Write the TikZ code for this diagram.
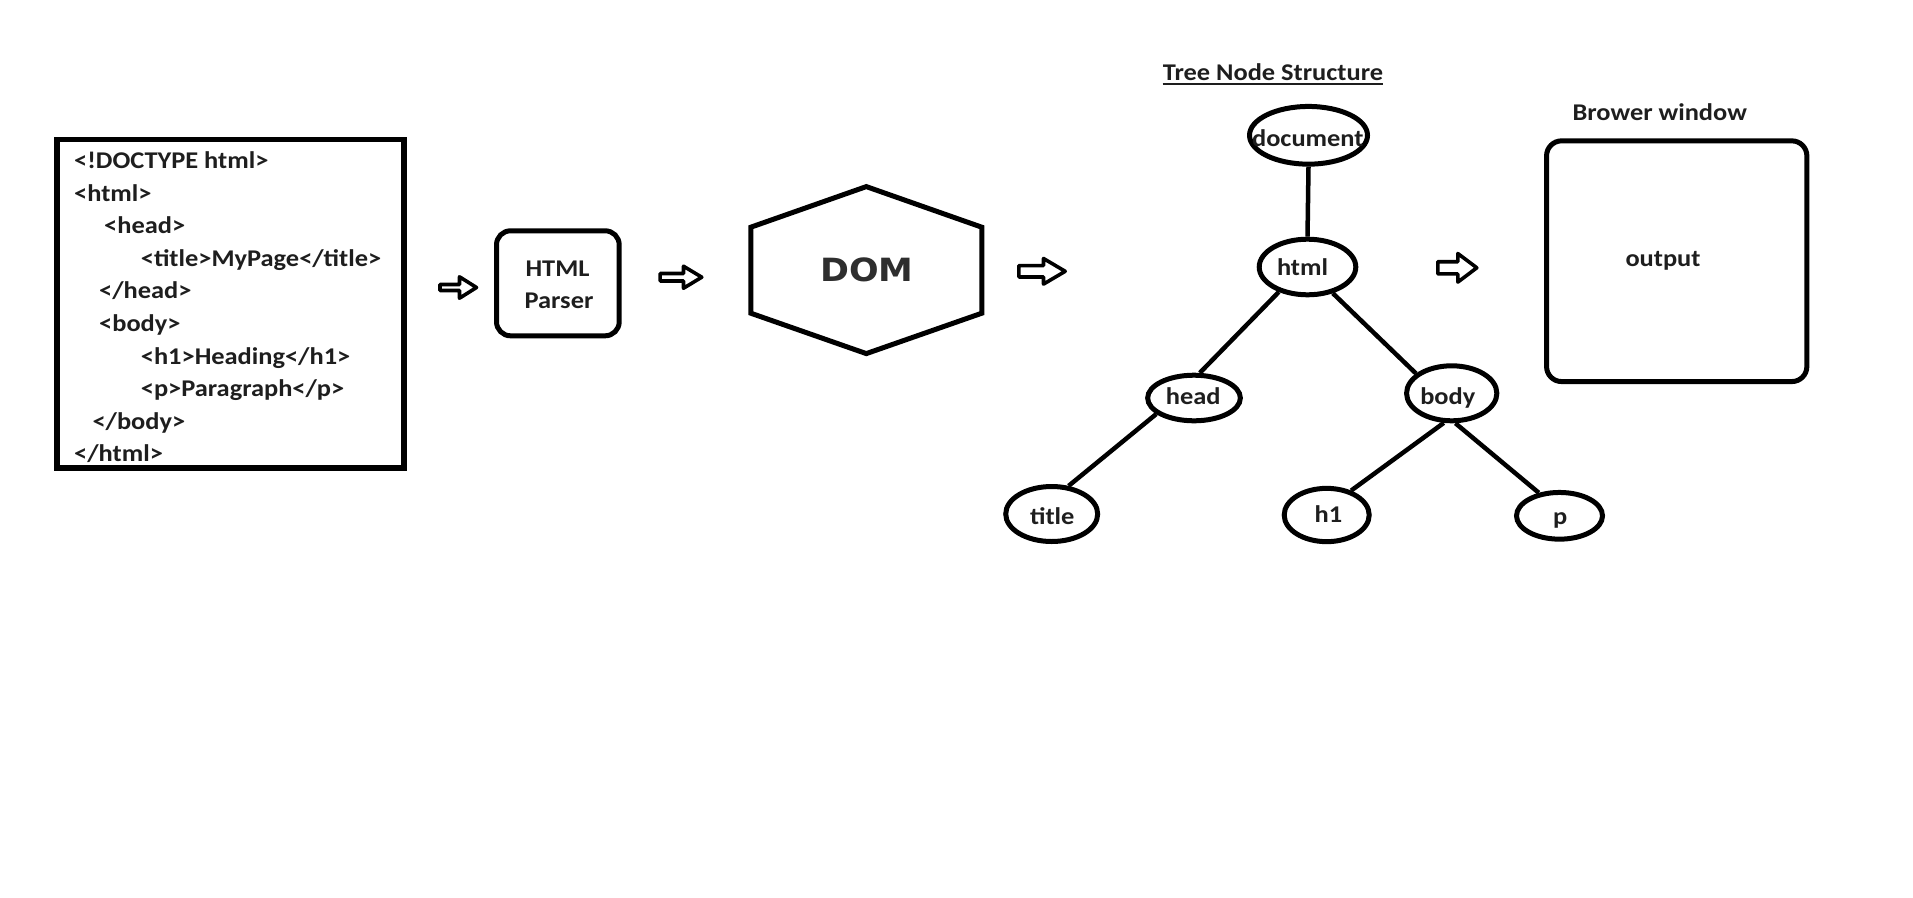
\documentclass[tikz,border=0pt]{standalone}
\usepackage{fontspec}
\usetikzlibrary{shapes.geometric}
\setmainfont{Carlito}[FakeStretch=1.10]
\newfontfamily\domfont{DejaVu Sans}[FakeStretch=1.09]
\definecolor{ink}{HTML}{1E1E1E}
\definecolor{domgray}{HTML}{2E2E2E}
\begin{document}
\begin{tikzpicture}[x=1pt,y=-1pt,
  txt/.style={inner sep=0pt, anchor=base, text=ink, font=\fontsize{24}{28}\selectfont\bfseries},
  codeline/.style={txt, anchor=base west},
  box/.style={draw, line width=5pt, inner sep=0pt},
  treenode/.style={draw, ellipse, line width=5pt, inner sep=0pt},
  edge/.style={line width=4.5pt},
  blockarrow/.style={draw, line width=3.6pt, fill=white, line join=round}
]
\useasboundingbox[fill=white] (0,0) rectangle (1913,897);

% source code box
\node[box, line width=5.5pt, minimum width=347.2pt, minimum height=328.5pt] (code) at (230.35,303.7) {};
\node[codeline] (c1) at (74,168.5) {<!DOCTYPE html>};
\node[codeline] (c2) at (74,201.1) {<html>};
\node[codeline] (c3) at (104,233.7) {<head>};
\node[codeline] (c4) at (140.7,266.2) {<title>MyPage</title>};
\node[codeline] (c5) at (99,298.8) {</head>};
\node[codeline] (c6) at (99,331.4) {<body>};
\node[codeline] (c7) at (140.7,364) {<h1>Heading</h1>};
\node[codeline] (c8) at (140.7,396.6) {<p>Paragraph</p>};
\node[codeline] (c9) at (92.3,429.1) {</body>};
\node[codeline] (c10) at (74,461.7) {</html>};

% arrow 1
\draw[blockarrow] (440,284.5) -- (459.5,284.5) -- (459.5,276.8) -- (476.5,287.5) -- (459.5,298.2) -- (459.5,290.5) -- (440,290.5) -- cycle;

% parser
\node[box, rounded corners=14pt, minimum width=122.7pt, minimum height=105pt] (parser) at (557.85,283.3) {};
\node[txt] (p1) at (557.5,276.7) {HTML};
\node[txt] (p2) at (559,308.3) {Parser};

% arrow 2
\draw[blockarrow] (660.1,273.5) -- (683.5,273.5) -- (683.5,266.2) -- (701.8,277.2) -- (683.5,288.2) -- (683.5,281) -- (660.1,281) -- cycle;

% DOM hexagon
\coordinate (hT) at (866.3,186.6);
\coordinate (hUR) at (981.8,227.2);
\coordinate (hLR) at (981.8,313.2);
\coordinate (hB) at (866.3,353.6);
\coordinate (hLL) at (750.8,313.2);
\coordinate (hUL) at (750.8,227.2);
\draw[line width=5pt, line join=miter] (hT) -- (hUR) -- (hLR) -- (hB) -- (hLL) -- (hUL) -- cycle;
\node[inner sep=0pt, anchor=base, text=domgray, font=\domfont\fontsize{32}{36}\selectfont\bfseries] (dom) at (867,281.5) {DOM};

% arrow 3
\draw[blockarrow] (1018.8,265.6) -- (1043.5,265.6) -- (1043.5,258.5) -- (1065.2,271.3) -- (1043.5,284.1) -- (1043.5,277) -- (1018.8,277) -- cycle;

% tree title
\node[txt] (ttl) at (1273,80) {Tree Node Structure};
\draw[line width=2pt, draw=ink] ([yshift=-3.8pt]ttl.base west) -- ([yshift=-3.8pt]ttl.base east);

% tree nodes
\node[treenode, minimum width=118pt, minimum height=57.7pt] (ndoc) at (1308.5,135.3) {};
\node[treenode, minimum width=96.6pt, minimum height=55.6pt] (nhtml) at (1307.5,267) {};
\node[treenode, minimum width=92.7pt, minimum height=45.6pt] (nhead) at (1194,398) {};
\node[treenode, minimum width=90.3pt, minimum height=55pt] (nbody) at (1451.7,393.3) {};
\node[treenode, minimum width=92pt, minimum height=55pt] (ntitle) at (1051.7,514) {};
\node[treenode, minimum width=85pt, minimum height=53.3pt] (nh1) at (1326.7,515) {};
\node[treenode, minimum width=86pt, minimum height=46.7pt] (np) at (1559.5,515.8) {};

\node[txt] (tdoc) at (1307.8,146) {document};
\node[txt] (thtml) at (1302.5,275) {html};
\node[txt] (thead) at (1193.3,404.3) {head};
\node[txt] (tbody) at (1447.8,404) {body};
\node[txt] (ttitle) at (1052.3,524.5) {title};
\node[txt] (th1) at (1328.5,522.5) {h1};
\node[txt] (tp) at (1560.3,524) {p};

% edges
\draw[edge] (ndoc.south) -- (nhtml.north);
\draw[edge] (nhtml.221) -- (nhead.77);
\draw[edge] (nhtml.314) -- (nbody.151);
\draw[edge] (nhead.203) -- (ntitle.59);
\draw[edge] (nbody.255) -- (nh1.45);
\draw[edge] (nbody.277) -- (np.132);

% arrow 4
\draw[blockarrow] (1437.8,261.7) -- (1457.8,261.7) -- (1457.8,253.5) -- (1476.8,267.8) -- (1457.8,282.1) -- (1457.8,273.9) -- (1437.8,273.9) -- cycle;

% browser window
\node[txt] (bwt) at (1659.7,120.7) {Brower window};
\node[box, rounded corners=15pt, minimum width=260.3pt, minimum height=240.7pt] (win) at (1676.7,261.2) {};
\node[txt] (out) at (1663,266) {output};
\end{tikzpicture}
\end{document}
